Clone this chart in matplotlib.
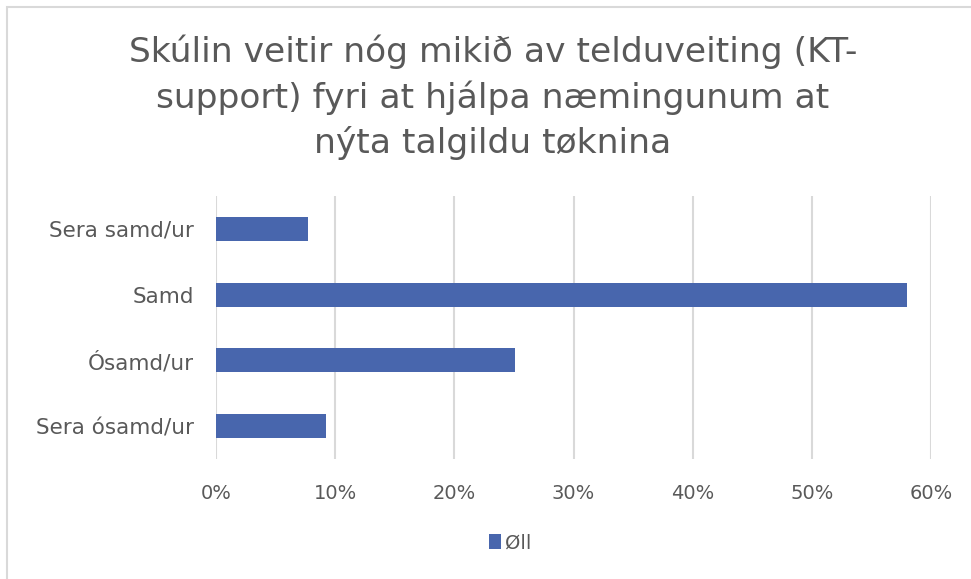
import matplotlib
matplotlib.use("Agg")
import matplotlib.pyplot as plt
from matplotlib.patches import Rectangle

# Svar á spurninginum
bolkar = ['Sera samd/ur', 'Samd', 'Ósamd/ur', 'Sera ósamd/ur']
oll = [0.077, 0.580, 0.251, 0.092]
x_ticks = [0, 0.1, 0.2, 0.3, 0.4, 0.5, 0.6]
x_labels = ['0%', '10%', '20%', '30%', '40%', '50%', '60%']

tekst_litur = '#595959'
bar_litur = '#4866ad'

plt.rcParams['font.family'] = ['DejaVu Sans']

fig = plt.figure(figsize=(9.71, 5.79), dpi=100)
W, H = 971, 579
ax = fig.add_axes([216 / W, 1 - 459 / H, (931 - 216) / W, (459 - 196) / H])

# ramma rundan um myndina
fig.patches.append(Rectangle((7 / W, -0.1), 1.2, 1 - 7 / H + 0.1, transform=fig.transFigure,
                             fill=False, edgecolor='#d9d9d9', linewidth=1.5))

y = range(len(bolkar))
ax.barh(y, oll, height=0.365, color=bar_litur, label='Øll', zorder=3)
ax.set_ylim(3.5, -0.5)
ax.set_xlim(0, 0.6)
ax.set_yticks(list(y))
ax.set_yticklabels(bolkar, fontsize=15.5, color=tekst_litur)
ax.set_xticks(x_ticks)
ax.set_xticklabels(x_labels, fontsize=14, color=tekst_litur)
ax.tick_params(axis='y', length=0, pad=16)
ax.tick_params(axis='x', length=0, pad=18)

ax.grid(axis='x', color='#d9d9d9', linewidth=1.5, zorder=0)
for s in ax.spines.values():
    s.set_visible(False)

fig.text(493 / W, 1 - 97 / H,
         'Skúlin veitir nóg mikið av telduveiting (KT-\nsupport) fyri at hjálpa næmingunum at\nnýta talgildu tøknina',
         ha='center', va='center', fontsize=24.8, color=tekst_litur, linespacing=1.42)

fig.legend(loc='center', bbox_to_anchor=(510 / W, 1 - 543 / H), frameon=False,
           fontsize=14, labelcolor=tekst_litur, handlelength=0.6, handleheight=0.8,
           handletextpad=0.2)

fig.savefig('out.png', dpi=100)
